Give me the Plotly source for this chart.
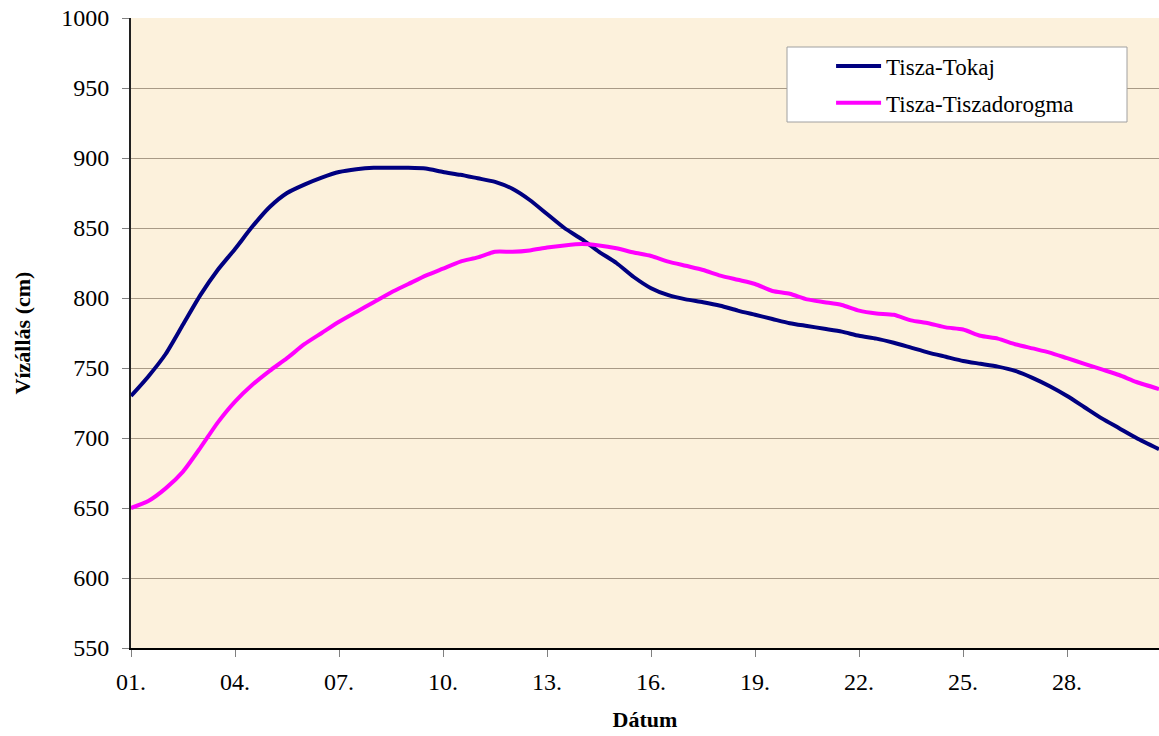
import plotly.graph_objects as go

# Days (fractional day of month)
days = [1.0, 1.5, 2.0, 2.5, 3.0, 3.5, 4.0, 4.5, 5.0, 5.5, 6.0, 6.5, 7.0, 7.5, 8.0, 8.5,
        9.0, 9.5, 10.0, 10.5, 11.0, 11.5, 12.0, 12.5, 13.0, 13.5, 14.0, 14.5, 15.0, 15.5,
        16.0, 16.5, 17.0, 17.5, 18.0, 18.5, 19.0, 19.5, 20.0, 20.5, 21.0, 21.5, 22.0, 22.5,
        23.0, 23.5, 24.0, 24.5, 25.0, 25.5, 26.0, 26.5, 27.0, 27.5, 28.0, 28.5, 29.0, 29.5,
        30.0, 30.65]

tokaj = [730, 744, 760, 781, 802, 820, 835, 851, 865, 875, 881, 886, 890, 892, 893, 893,
         893, 892.5, 890, 888, 885.5, 883, 878, 870, 860, 850, 842, 833, 825, 815,
         807, 802, 799, 797, 794.5, 791, 788, 785, 782, 780, 778, 776, 773, 771,
         768, 764.5, 761, 758, 755, 753, 751, 748, 743, 737, 730, 722, 714, 707,
         700, 692]

tiszadorogma = [650, 655, 664, 676, 693, 711, 726, 738, 748, 757, 767, 775, 783, 790, 797, 804,
                810, 816, 821, 826, 829, 833, 833, 834, 836, 837.5, 838.5, 837.5, 835.5, 832.5,
                830, 826, 823, 820, 816, 813, 810, 805, 803, 799, 797, 795, 791, 789,
                788, 784, 782, 779, 777.5, 773, 771, 767, 764, 761, 757, 753, 749, 745,
                740, 735]

x_tick_vals = [1, 4, 7, 10, 13, 16, 19, 22, 25, 28]
x_tick_text = ["01.", "04.", "07.", "10.", "13.", "16.", "19.", "22.", "25.", "28."]

FONT = "Liberation Serif, Times New Roman, serif"

fig = go.Figure()
fig.add_trace(go.Scatter(x=days, y=tokaj, mode="lines", name="Tisza-Tokaj",
                         line=dict(color="#000080", width=4, shape="spline", smoothing=0.6),
                         legendgroup="a"))
fig.add_trace(go.Scatter(x=days, y=tiszadorogma, mode="lines", name="Tisza-Tiszadorogma",
                         line=dict(color="#FF00FF", width=4, shape="spline", smoothing=0.6),
                         legendgroup="b"))

fig.update_layout(
    width=1159, height=736,
    margin=dict(l=131, r=0, t=18, b=88),
    paper_bgcolor="white",
    plot_bgcolor="#FCF1DC",
    font=dict(family=FONT, size=24, color="black"),
    showlegend=True,
    legend=dict(x=0.681, y=0.958, xanchor="left", yanchor="top",
                bgcolor="rgba(0,0,0,0)", borderwidth=0,
                font=dict(family=FONT, size=23, color="black"),
                itemwidth=45,
                tracegroupgap=4, traceorder="grouped"),
    shapes=[dict(type="rect", xref="paper", yref="paper",
                 x0=(787 - 131) / 1028, x1=(1127 - 131) / 1028,
                 y0=(648 - 122) / 630, y1=(648 - 47) / 630,
                 fillcolor="white", line=dict(color="#A0A0A0", width=1),
                 layer="above")],
)

fig.update_xaxes(
    range=[1, 30.65], tickmode="array", tickvals=x_tick_vals, ticktext=x_tick_text,
    showgrid=False, zeroline=False,
    showline=True, linecolor="black", linewidth=2,
    ticks="outside", ticklen=7, tickcolor="#808080", tickwidth=1,
    ticklabelstandoff=4,
    tickfont=dict(family=FONT, size=24),
    title=dict(text="<b>Dátum</b>", font=dict(family=FONT, size=22), standoff=18),
)
fig.update_yaxes(
    range=[550, 1000], dtick=50, tick0=550,
    showgrid=True, gridcolor="#A89A86", gridwidth=1, zeroline=False,
    showline=True, linecolor="#202020", linewidth=2,
    ticks="outside", ticklen=7, tickcolor="#808080", tickwidth=1,
    ticklabelstandoff=8,
    tickfont=dict(family=FONT, size=24),
    title=dict(text="<b>Vízállás (cm)</b>", font=dict(family=FONT, size=22), standoff=25),
)

fig.write_html("out.html", config={"displayModeBar": False},
               post_script="document.body.style.margin='0px';")
